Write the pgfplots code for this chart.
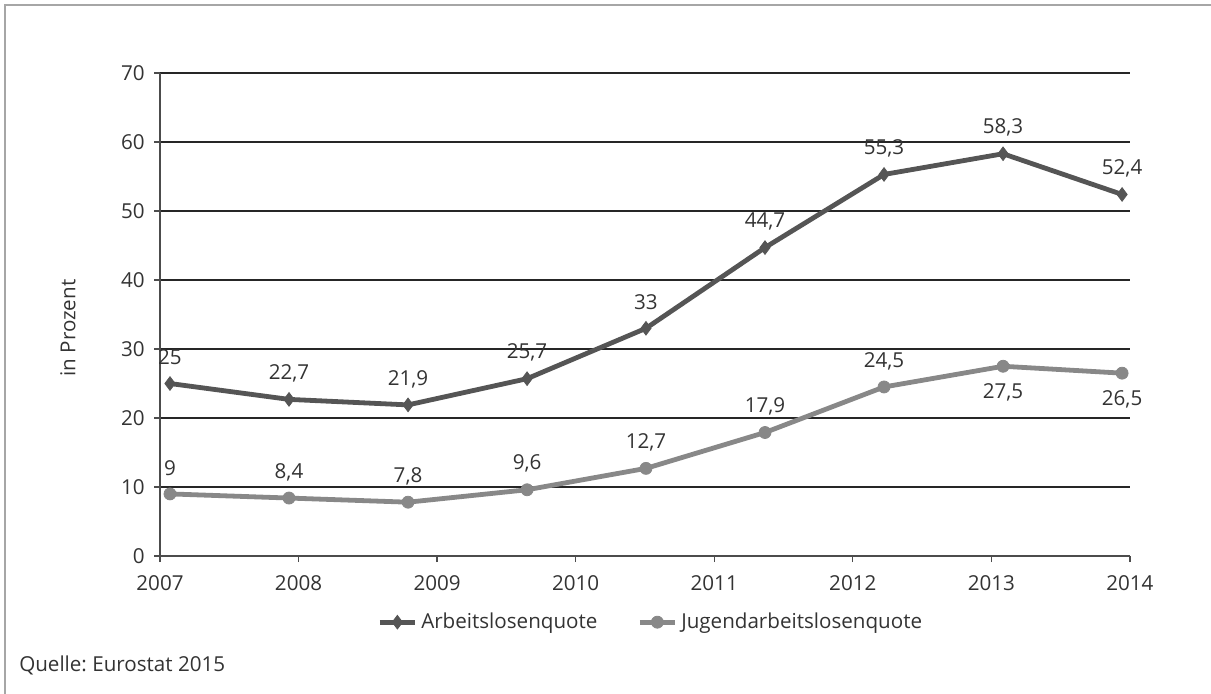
\documentclass[border=0pt]{standalone}
\usepackage{fontspec}
\setmainfont{Open Sans}
\usepackage{pgfplots}
\usepackage{pgfplotstable}
\pgfplotsset{compat=1.18}

\definecolor{seriesA}{HTML}{555555}
\definecolor{seriesB}{HTML}{888888}
\definecolor{txt}{HTML}{333333}

% x positions: nine points spread evenly over the year axis
\pgfplotstableread{
x        y     lab   dy
2007.072 25    25    13
2007.931 22.7  22,7  13
2008.790 21.9  21,9  13
2009.649 25.7  25,7  13
2010.507 33    33    13
2011.366 44.7  44,7  13
2012.225 55.3  55,3  13
2013.084 58.3  58,3  13
2013.943 52.4  52,4  13
}\arbeit

\pgfplotstableread{
x        y     lab   dy
2007.072 9     9     13
2007.931 8.4   8,4   13
2008.790 7.8   7,8   13
2009.649 9.6   9,6   13
2010.507 12.7  12,7  13
2011.366 17.9  17,9  13
2012.225 24.5  24,5  13
2013.084 27.5  27,5  -13
2013.943 26.5  26,5  -13
}\jugend

\begin{document}
\frenchspacing
\fontsize{10.3}{12}\selectfont
\begin{tikzpicture}
\path[use as bounding box] (-80pt,-68.5pt) rectangle (525.5pt,278pt);
\draw[black!35, line width=0.8pt] (-77.5pt,-70pt) -- (-77.5pt,275.5pt) -- (530pt,275.5pt);

\begin{axis}[
    scale only axis,
    width=485pt, height=241.5pt,
    xmin=2007, xmax=2014,
    ymin=0, ymax=70,
    xtick={2007,...,2014},
    ytick={0,10,...,70},
    xticklabel style={/pgf/number format/1000 sep={}},
    /pgf/number format/assume math mode=true,
    ticklabel style={font=\fontsize{10.3}{12}\selectfont, text=txt},
    tick style={black!70, line width=0.6pt},
    major tick length=3pt,
    tick align=outside,
    xtick pos=bottom, ytick pos=left,
    axis x line*=bottom,
    axis y line*=left,
    axis line style={black!70, line width=0.6pt, -},
    ymajorgrids,
    major grid style={black!85, line width=0.55pt},
    yticklabel style={xshift=-1pt},
    xticklabel style={yshift=-3pt},
    ylabel={in Prozent},
    every axis y label/.style={at={(axis description cs:-0.095,0.472)}, rotate=90, anchor=center, font=\fontsize{10.3}{12}\selectfont, text=txt},
    clip=false,
    legend style={at={(0.507,-0.137)}, anchor=center, draw=none, fill=none,
      legend columns=2, font=\fontsize{10.3}{12}\selectfont, text=txt,
      /tikz/every even column/.append style={column sep=18pt}},
    legend cell align=left,
    legend image code/.code={
      \draw[#1, mark repeat=2, mark phase=2] plot coordinates {(0pt,0pt) (8.75pt,0pt) (17.5pt,0pt)};
    },
    nodes near coords,
    point meta=explicit symbolic,
    visualization depends on={\thisrow{dy} \as \dy},
    every node near coord/.style={anchor=center, yshift=\dy pt, font=\fontsize{10.3}{12}\selectfont, text=txt},
]
\addplot[seriesA, line width=2.4pt, mark=diamond*, mark size=3.4pt,
  mark options={fill=seriesA, line width=0.4pt}]
  table[x=x, y=y, meta=lab] {\arbeit};
\addlegendentry{Arbeitslosenquote}
\addplot[seriesB, line width=2.4pt, mark=*, mark size=3pt,
  mark options={fill=seriesB, line width=0.4pt}]
  table[x=x, y=y, meta=lab] {\jugend};
\addlegendentry{Jugendarbeitslosenquote}
\end{axis}

\node[anchor=west, text=txt, font=\fontsize{10.3}{12}\selectfont] at (-74pt,-54.5pt) {Quelle: Eurostat 2015};
\end{tikzpicture}
\end{document}
